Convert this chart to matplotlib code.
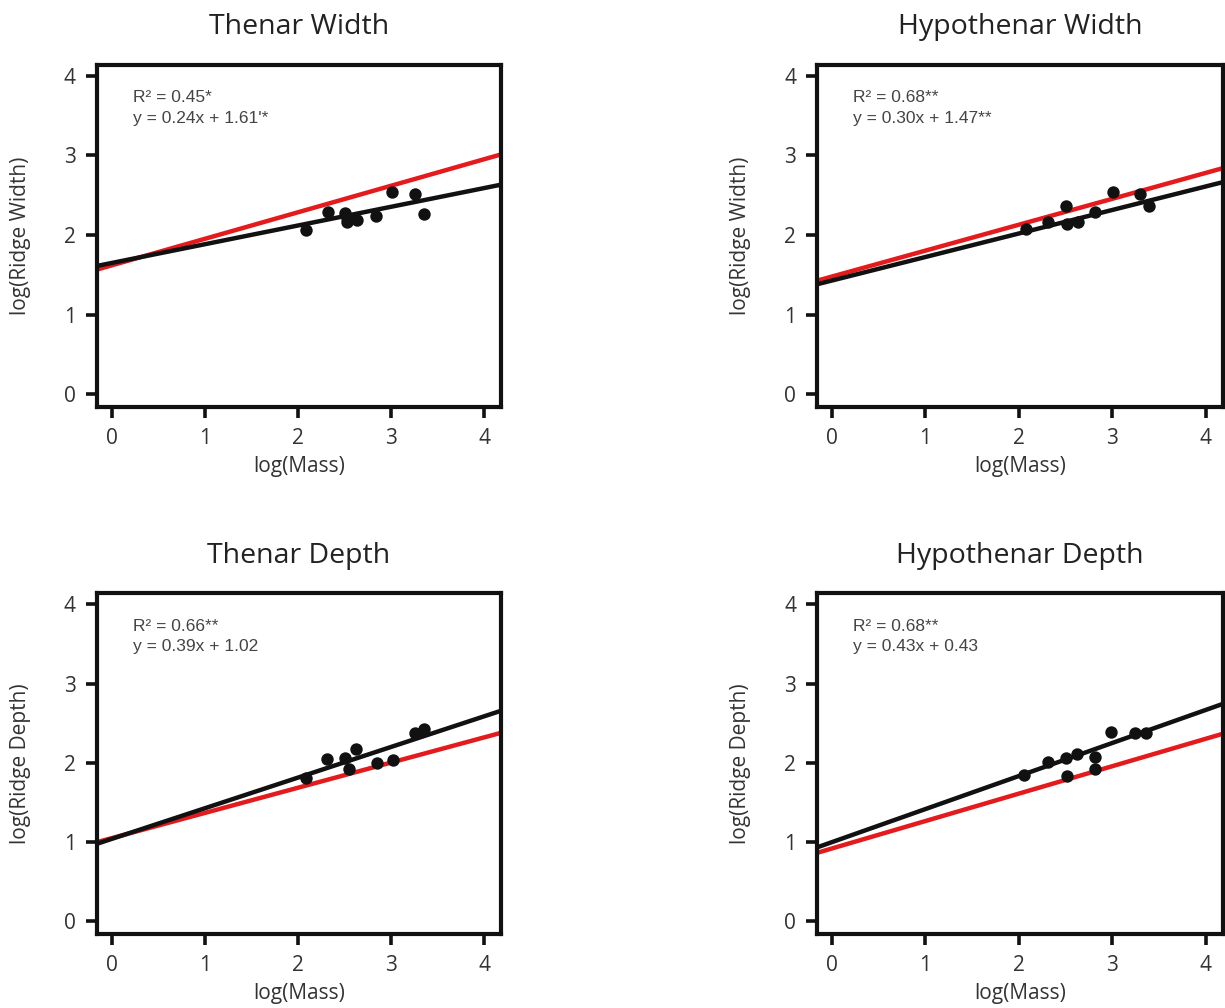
import numpy as np
import matplotlib
matplotlib.use('Agg')
import matplotlib.pyplot as plt

plt.rcParams['font.family'] = ['Open Sans', 'DejaVu Sans']

# log(Mass) per panel
mass_tw = [2.09, 2.32, 2.51, 2.53, 2.53, 2.63, 2.84, 3.01, 3.26, 3.35]
mass_hw = [2.08, 2.31, 2.50, 2.52, 2.63, 2.82, 3.01, 3.30, 3.39]
mass_td = [2.09, 2.31, 2.51, 2.55, 2.62, 2.85, 3.02, 3.26, 3.35]
mass_hd = [2.05, 2.31, 2.50, 2.51, 2.62, 2.81, 2.82, 2.99, 3.24, 3.36]

# log(ridge size)
width_th = [2.06, 2.29, 2.28, 2.22, 2.16, 2.19, 2.24, 2.54, 2.52, 2.26]
width_hy = [2.07, 2.17, 2.37, 2.14, 2.16, 2.29, 2.54, 2.52, 2.37]
depth_th = [1.81, 2.05, 2.06, 1.92, 2.18, 2.00, 2.04, 2.38, 2.43]
depth_hy = [1.85, 2.01, 2.06, 1.84, 2.11, 2.08, 1.92, 2.39, 2.38, 2.38]

# fitted line (black) and reference line (red): slope, intercept
fit_lines = [(0.235, 1.65), (0.295, 1.43), (0.387, 1.04), (0.417, 1.00)]
ref_lines = [(0.333, 1.62), (0.325, 1.48), (0.318, 1.05), (0.346, 0.92)]

titles = ['Thenar Width', 'Hypothenar Width', 'Thenar Depth', 'Hypothenar Depth']
ylabels = ['log(Ridge Width)', 'log(Ridge Width)', 'log(Ridge Depth)', 'log(Ridge Depth)']
stats = [('R\u00b2 = 0.45*', 'y = 0.24x + 1.61\'*'),
         ('R\u00b2 = 0.68**', 'y = 0.30x + 1.47**'),
         ('R\u00b2 = 0.66**', 'y = 0.39x + 1.02'),
         ('R\u00b2 = 0.68**', 'y = 0.43x + 0.43')]

xs = [mass_tw, mass_hw, mass_td, mass_hd]
ys = [width_th, width_hy, depth_th, depth_hy]

fig = plt.figure(figsize=(12.25, 10.08), dpi=100)
boxes = [[0.079, 0.596, 0.330, 0.340],
         [0.667, 0.596, 0.331, 0.340],
         [0.079, 0.0734, 0.330, 0.338],
         [0.667, 0.0734, 0.331, 0.338]]

xlim = (-0.16, 4.18)
ylim = (-0.16, 4.14)
for i in range(4):
    ax = fig.add_axes(boxes[i])
    xx = np.array(xlim)
    m, b = ref_lines[i]
    ax.plot(xx, m*xx + b, color='#e41a1c', lw=3.2, zorder=2, solid_capstyle='butt')
    m, b = fit_lines[i]
    ax.plot(xx, m*xx + b, color='#111111', lw=3.2, zorder=3, solid_capstyle='butt')
    ax.scatter(xs[i], ys[i], s=80, color='#111111', zorder=4, linewidths=0)
    ax.set_xlim(xlim)
    ax.set_ylim(ylim)
    ax.set_xticks([0, 1, 2, 3, 4])
    ax.set_yticks([0, 1, 2, 3, 4])
    for s in ax.spines.values():
        s.set_linewidth(3)
        s.set_color('#111111')
    ax.tick_params(direction='out', length=8, width=2.6, color='#111111',
                   labelsize=15, labelcolor='#333333', pad=7)
    ax.set_xlabel('log(Mass)', fontsize=15, color='#333333', labelpad=5)
    ax.set_ylabel(ylabels[i], fontsize=15, color='#333333', labelpad=24)
    ax.set_title(titles[i], fontsize=20.5, color='#222222', pad=22)
    ax.text(0.089, 0.904, stats[i][0], transform=ax.transAxes, fontsize=12.5,
            family='Liberation Sans', color='#444444', va='center')
    ax.text(0.089, 0.843, stats[i][1], transform=ax.transAxes, fontsize=12.5,
            family='Liberation Sans', color='#444444', va='center')

fig.savefig('out.png', dpi=100)
